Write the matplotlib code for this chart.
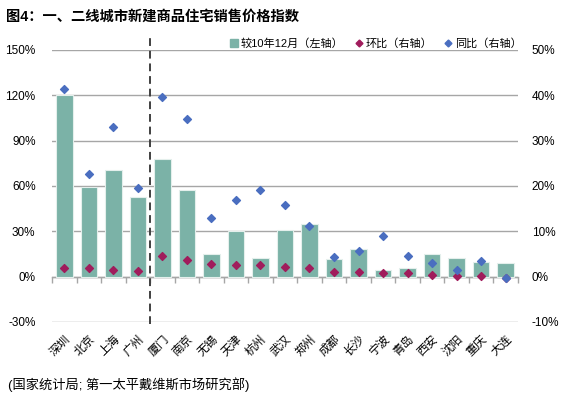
import matplotlib
matplotlib.use("Agg")
import matplotlib.pyplot as plt
from matplotlib.lines import Line2D
import numpy as np

plt.rcParams['font.family'] = ['Liberation Sans', 'Noto Sans CJK SC', 'DejaVu Sans']

cities = ['深圳', '北京', '上海', '广州', '厦门', '南京', '无锡', '天津', '杭州', '武汉',
          '郑州', '成都', '长沙', '宁波', '青岛', '西安', '沈阳', '重庆', '大连']
# vs Dec 2010 (left axis, %)
vs_dec10 = [120, 59.3, 70.3, 52.4, 77.6, 57, 15, 30.3, 12.2, 31, 35, 11.7, 18.6, 4.4, 5.5, 15, 12.2, 10, 9.1]
# month-on-month (right axis, %)
mom = [2.0, 1.8, 1.4, 1.3, 4.6, 3.6, 2.8, 2.5, 2.5, 2.2, 2.0, 1.0, 0.95, 0.9, 0.75, 0.45, 0.15, 0.15, -0.4]
# year-on-year (right axis, %)
yoy = [41.3, 22.6, 33.0, 19.5, 39.5, 34.8, 12.9, 17.0, 19.1, 15.8, 11.2, 4.3, 5.7, 9.0, 4.6, 3.1, 1.5, 3.4, -0.2]

left_ticks = [-30, 0, 30, 60, 90, 120, 150]
right_ticks = [-10, 0, 10, 20, 30, 40, 50]

teal = '#7BB2A7'
maroon = '#A01C5C'
blue = '#4A6EC0'
grid_c = '#A6A6A6'

fig = plt.figure(figsize=(5.61, 3.99), dpi=100)
ax = fig.add_axes([0.093, 0.193, 0.830, 0.682])
x = np.arange(len(cities))

ax.bar(x, vs_dec10, width=0.66, color=teal, edgecolor='#E4EFEC', linewidth=0.8, zorder=2)
ax.set_ylim(-30, 150)
ax.set_xlim(-0.5, len(cities) - 0.5)
ax.set_yticks(left_ticks)
ax.set_yticklabels(['%d%%' % v for v in left_ticks])
ax.yaxis.grid(True, color=grid_c, linewidth=1.0, zorder=0)
ax.set_axisbelow(True)
for s in ax.spines.values():
    s.set_visible(False)
ax.tick_params(axis='y', length=0, labelsize=8.5, pad=12)
ax.set_xticks(x)
ax.set_xticklabels(cities, rotation=45, ha='right', rotation_mode='anchor', fontsize=8.5)
ax.tick_params(axis='x', length=0, pad=8)

# category tick marks on the zero line
sec = ax.secondary_xaxis(30 / 180)
sec.set_xticks(np.arange(-0.5, len(cities), 1))
sec.set_xticklabels([])
sec.tick_params(axis='x', direction='out', length=4, color=grid_c, width=1)
sec.spines['bottom'].set_color(grid_c)
sec.spines['bottom'].set_linewidth(1.0)

# dashed divider between first-tier and second-tier cities
ax.plot([3.5, 3.5], [-31, 160], color='#404040', linestyle=(0, (4, 2.5)), linewidth=1.4,
        clip_on=False, zorder=5)

ax2 = ax.twinx()
ax2.set_ylim(-10, 50)
ax2.set_yticks(right_ticks)
ax2.set_yticklabels(['%d%%' % v for v in right_ticks])
ax2.tick_params(axis='y', length=0, labelsize=8.5, pad=10)
for s in ax2.spines.values():
    s.set_visible(False)
ax2.scatter(x, mom, marker='D', s=16, color=maroon, zorder=4)
ax2.scatter(x, yoy, marker='D', s=16, color=blue, zorder=4)

handles = [
    Line2D([], [], marker='s', color=teal, linestyle='none', markersize=6),
    Line2D([], [], marker='D', color=maroon, linestyle='none', markersize=3.5),
    Line2D([], [], marker='D', color=blue, linestyle='none', markersize=3.5),
]
fig.legend(handles, ['较10年12月（左轴）', '环比（右轴）', '同比（右轴）'],
           loc='center right', bbox_to_anchor=(0.93, 0.892), ncol=3, frameon=False,
           fontsize=8, handlelength=0.8, handletextpad=0.2, columnspacing=1.0,
           borderpad=0, borderaxespad=0)

fig.text(0.011, 0.957, '图4：一、二线城市新建商品住宅销售价格指数', fontsize=10.3,
         fontweight='bold', va='center', ha='left')
fig.text(0.014, 0.036, '(国家统计局; 第一太平戴维斯市场研究部)', fontsize=9.5,
         va='center', ha='left')

plt.savefig('out.png', dpi=100)
